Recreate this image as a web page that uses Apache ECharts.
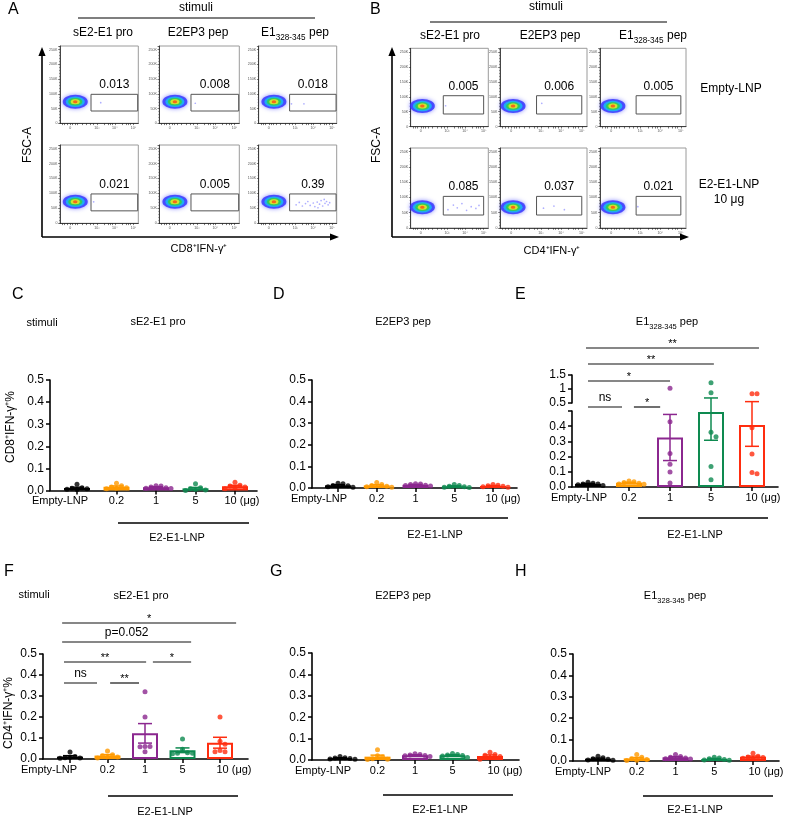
<!DOCTYPE html>
<html>
<head>
<meta charset="utf-8">
<title>Figure</title>
<script src="https://cdn.jsdelivr.net/npm/echarts@6.0.0/dist/echarts.min.js"></script>
<style>
html,body{margin:0;padding:0;background:#ffffff;}
#chart{width:789px;height:817px;}
</style>
</head>
<body>
<div id="chart"></div>
<script>
// ======================= DATA =======================
const doseLabels = ['Empty-LNP', '0.2', '1', '5', '10 (μg)'];
const groupName = 'E2-E1-LNP';
const stimuliHeads = ['sE2-E1 pro', 'E2EP3 pep', 'E1_{328-345} pep'];
const rowLabelsB = ['Empty-LNP', 'E2-E1-LNP', '10 μg'];

const fscTickValues = [0, 50000, 100000, 150000, 200000, 250000];
const fscTickLabels = ['0', '50K', '100K', '150K', '200K', '250K'];
const ifnTickValues = [13, 47, 70, 94];
const ifnTickLabels = ['0', '10³', '10⁴', '10⁵'];

// gate frequencies (rows: Empty-LNP, E2-E1-LNP 10 μg ; cols: stimuli)
const cd8GateFreq = [[0.013, 0.008, 0.018], [0.021, 0.005, 0.39]];
const cd4GateFreq = [[0.005, 0.006, 0.005], [0.085, 0.037, 0.021]];
// gates (IFN display scale, FSC-A)
const cd8GateX = [39.6, 99.2];
const cd8GateY = [41700, 98300];
const cd4GateX = [42, 94];
const cd4GateY = [42500, 103600];
// main population centres
const cd8ClusterCentre = [[19.5, 73000], [19.5, 73000], [19.5, 73000], [19.5, 72000], [19.5, 72000], [19.5, 72000]];
const cd4ClusterCentre = [[15, 69000], [15, 69000], [15, 69000], [15, 68000], [15, 68000], [15, 68000]];
// events inside gates
const cd8GateEvents = [
  [[52, 70000]],
  [[45, 68000]],
  [[42, 66000], [58, 66000]],
  [[43, 72000]],
  [],
  [[48, 62000], [52, 70000], [56, 58000], [60, 66000], [63, 73000], [66, 60000], [70, 68000], [72, 56000], [75, 71000],
   [78, 64000], [80, 76000], [82, 58000], [85, 67000], [87, 73000], [89, 62000], [91, 69000], [84, 80000], [76, 52000]]
];
const cd4GateEvents = [
  [[45, 70000]],
  [[48, 78000]],
  [],
  [[48, 60000], [55, 75000], [60, 66000], [66, 80000], [72, 58000], [78, 70000], [84, 64000], [88, 74000]],
  [[50, 65000], [62, 72000], [74, 60000]],
  [[44, 70000]]
];

// % IFN-γ+ per mouse: groups Empty-LNP, 0.2, 1, 5, 10 μg
const cd8_sE2E1 = [
  [0.028, 0.012, 0.010, 0.008, 0.006, 0.005],
  [0.033, 0.022, 0.016, 0.012, 0.010, 0.008],
  [0.022, 0.020, 0.016, 0.013, 0.010, 0.009],
  [0.030, 0.012, 0.008, 0.005, 0.002, 0.000],
  [0.037, 0.024, 0.020, 0.016, 0.012, 0.008]
];
const cd8_E2EP3 = [
  [0.022, 0.020, 0.012, 0.010, 0.006, 0.004],
  [0.026, 0.016, 0.012, 0.008, 0.006, 0.004],
  [0.020, 0.019, 0.016, 0.013, 0.011, 0.009],
  [0.016, 0.012, 0.008, 0.006, 0.004, 0.002],
  [0.016, 0.013, 0.010, 0.008, 0.006, 0.003]
];
const cd8_E1pep = [
  [0.032, 0.025, 0.020, 0.015, 0.010, 0.020],
  [0.040, 0.035, 0.030, 0.025, 0.020, 0.018],
  [1.03, 0.43, 0.22, 0.15, 0.098, 0.026],
  [1.22, 0.87, 0.36, 0.33, 0.135, 0.048],
  [0.83, 0.83, 0.39, 0.217, 0.096, 0.087]
];
const cd4_sE2E1 = [
  [0.033, 0.012, 0.008, 0.006, 0.005, 0.004],
  [0.038, 0.020, 0.015, 0.010, 0.010, 0.005],
  [0.32, 0.20, 0.060, 0.060, 0.058, 0.035],
  [0.095, 0.046, 0.030, 0.027, 0.027, 0.025],
  [0.20, 0.085, 0.070, 0.040, 0.035, 0.035]
];
const cd4_E2EP3 = [
  [0.016, 0.011, 0.009, 0.007, 0.005, 0.003],
  [0.048, 0.020, 0.014, 0.006, 0.004, 0.002],
  [0.029, 0.026, 0.023, 0.021, 0.020, 0.016],
  [0.030, 0.026, 0.023, 0.021, 0.019, 0.012],
  [0.036, 0.026, 0.022, 0.016, 0.010, 0.004]
];
const cd4_E1pep = [
  [0.022, 0.015, 0.011, 0.008, 0.005, 0.003],
  [0.030, 0.018, 0.011, 0.007, 0.004, 0.002],
  [0.030, 0.021, 0.018, 0.014, 0.011, 0.009],
  [0.018, 0.014, 0.010, 0.007, 0.005, 0.003],
  [0.036, 0.022, 0.019, 0.016, 0.013, 0.010]
];

// significance comparisons [from group, to group, label]
const sigE = [[0, 0.83, 'ns'], [1.12, 1.76, '*'], [0, 2, '*'], [0, 3.07, '**'], [-0.05, 4.17, '**']];
const sigF = [[-0.16, 0.72, 'ns'], [1.07, 1.84, '**'], [-0.16, 2.03, '**'], [2.21, 3.23, '*'], [-0.21, 3.23, 'p=0.052'], [-0.21, 4.43, '*']];

// ======================= STYLE / LAYOUT =======================
const FONT = '"Liberation Sans", Arial, Helvetica, sans-serif';
const groupColors = ['#000000', '#ff9a00', '#8b278f', '#0e8a50', '#ff2d0f'];
const sigELevels = [407, 407, 381, 364, 348];
const sigFLevels = [683, 683, 662, 662, 642, 623];
const flowXTickMarks = [3, 6, 9, 13, 16, 19, 22, 28, 34, 39, 43, 47, 56, 61, 64, 67, 70, 79, 84, 87, 90, 94];
const densityLayers = [
  {size: [25, 14], color: '#3030ff', blur: 4, shadow: 'rgba(50,50,255,0.7)'},
  {size: [19, 10.5], color: '#1cb8f2', blur: 1, shadow: 'rgba(28,184,242,0.6)'},
  {size: [14, 7.5], color: '#30d04a', blur: 1, shadow: 'rgba(48,208,74,0.6)'},
  {size: [9, 5], color: '#e6e62c', blur: 1, shadow: 'rgba(230,230,44,0.6)'},
  {size: [4.5, 3], color: '#ff4a10', blur: 0, shadow: 'rgba(0,0,0,0)'}
];
const flowBoxA = {cols: [[60, 138.3], [159.3, 239.3], [258.7, 336.7]], rows: [[46, 123.3], [145, 223.3]]};
const flowBoxB = {cols: [[410.7, 488.3], [500, 587], [600, 686]], rows: [[48.3, 126.7], [148, 228]]};
const barLayout = {
  C: {left: 50, right: 257, top: 380, bottom: 490.5, ymax: 0.5, cat0: 77, step: 39.5, shift0: -17, shift4: 7},
  D: {left: 312, right: 517, top: 380, bottom: 488, ymax: 0.5, cat0: 338, step: 38.75, shift0: -19, shift4: 10},
  E: {left: 572, right: 778, top: 411, bottom: 487, ymax: 0.5, upTop: 375, upBottom: 403, upMax: 1.5, cat0: 588, step: 41, shift0: -9, shift4: 11},
  F: {left: 43, right: 248, top: 654, bottom: 759, ymax: 0.5, cat0: 70, step: 37.5, shift0: -21, shift4: 14},
  G: {left: 312, right: 519, top: 653, bottom: 760, ymax: 0.5, cat0: 340, step: 37.5, shift0: -17, shift4: 15},
  H: {left: 573, right: 779, top: 654, bottom: 761, ymax: 0.5, cat0: 598, step: 38.75, shift0: -15, shift4: 13}
};

// ======================= BUILD =======================
const grids = [], xAxes = [], yAxes = [], series = [], graphics = [];

function toRich(s) {
  const m = s.match(/^(.*)_\{(.*)\}(.*)$/);
  if (!m) return '{m|' + s + '}';
  return '{m|' + m[1] + '}{s|' + m[2] + '}{m|' + m[3] + '}';
}
function subRich(fs) {
  return {
    m: {fontSize: fs, fontFamily: FONT, fill: '#000', color: '#000', padding: [0, 0, 2.5, 0], verticalAlign: 'top'},
    s: {fontSize: fs * 0.68, fontFamily: FONT, fill: '#000', color: '#000', verticalAlign: 'bottom'}
  };
}
function txt(x, y, text, o) {
  o = o || {};
  const el = {
    type: 'text', x: x, y: y, rotation: o.rot || 0, silent: true, z: 100,
    style: {
      text: text, fill: o.color || '#000', fontSize: o.size || 12, fontFamily: FONT,
      align: o.align || 'center', verticalAlign: o.valign || 'middle'
    }
  };
  if (o.rich) el.style.rich = o.rich;
  graphics.push(el);
}
function rtxt(x, y, s, size) {
  txt(x, y + 1.3, toRich(s), {size: size, rich: subRich(size)});
}
function gline(x1, y1, x2, y2, w, color) {
  graphics.push({type: 'line', silent: true, z: 100, shape: {x1: x1, y1: y1, x2: x2, y2: y2},
    style: {stroke: color || '#000', lineWidth: w || 1}});
}
function arrowUp(x, yBottom, yTip) {
  gline(x, yBottom, x, yTip + 6, 1.6);
  graphics.push({type: 'polygon', silent: true, z: 100, shape: {points: [[x, yTip], [x - 3.6, yTip + 9], [x + 3.6, yTip + 9]]}, style: {fill: '#000'}});
}
function arrowRight(xLeft, y, xTip) {
  gline(xLeft, y, xTip - 6, y, 1.6);
  graphics.push({type: 'polygon', silent: true, z: 100, shape: {points: [[xTip, y], [xTip - 9, y - 3.6], [xTip - 9, y + 3.6]]}, style: {fill: '#000'}});
}

const mean = a => a.reduce((s, v) => s + v, 0) / a.length;
const sem = a => {
  const m = mean(a);
  return Math.sqrt(a.reduce((s, v) => s + (v - m) * (v - m), 0) / (a.length - 1)) / Math.sqrt(a.length);
};

// ---------- flow cytometry plots ----------
function flowPlot(box, freq, gx, gy, centre, events) {
  const gi = grids.length;
  grids.push({left: box[0], top: box[1], width: box[2] - box[0], height: box[3] - box[1],
    show: true, borderColor: '#9a9a9a', borderWidth: 1, backgroundColor: '#fff'});
  xAxes.push({gridIndex: gi, type: 'value', min: 0, max: 100,
    axisLine: {show: true, onZero: false, lineStyle: {color: '#222', width: 0.8}},
    axisTick: {show: true, customValues: flowXTickMarks, length: 1.8, lineStyle: {color: '#222', width: 0.6}},
    axisLabel: {show: true, customValues: ifnTickValues,
      formatter: v => { const k = ifnTickValues.indexOf(v); return k < 0 ? '' : ifnTickLabels[k]; },
      fontSize: 3.6, color: '#555', margin: 2.5, fontFamily: FONT},
    splitLine: {show: false}});
  yAxes.push({gridIndex: gi, type: 'value', min: 0, max: 262144, interval: 50000,
    axisLine: {show: true, onZero: false, lineStyle: {color: '#222', width: 0.8}},
    axisTick: {show: true, length: 1.8, lineStyle: {color: '#222', width: 0.6}},
    minorTick: {show: true, splitNumber: 5, length: 1, lineStyle: {color: '#444', width: 0.5}},
    axisLabel: {formatter: v => { const k = fscTickValues.indexOf(v); return k < 0 ? '' : fscTickLabels[k]; },
      fontSize: 3.6, color: '#555', margin: 2.5, fontFamily: FONT},
    splitLine: {show: false}});
  series.push({type: 'scatter', xAxisIndex: gi, yAxisIndex: gi, silent: true, z: 3, symbol: 'circle',
    data: densityLayers.map(l => ({value: centre, symbolSize: l.size,
      itemStyle: {color: l.color, shadowBlur: l.blur, shadowColor: l.shadow}}))});
  series.push({type: 'scatter', xAxisIndex: gi, yAxisIndex: gi, silent: true, z: 3, symbolSize: 1.7,
    itemStyle: {color: 'rgba(70,70,255,0.55)'}, data: events});
  series.push({type: 'custom', xAxisIndex: gi, yAxisIndex: gi, silent: true, z: 4, clip: false,
    data: [[gx[0], gy[0], gx[1], gy[1], freq]],
    renderItem: (p, api) => {
      const a = api.coord([api.value(0), api.value(3)]);
      const b = api.coord([api.value(2), api.value(1)]);
      return {type: 'group', children: [
        {type: 'rect', shape: {x: a[0], y: a[1], width: b[0] - a[0], height: b[1] - a[1]},
          style: {fill: 'none', stroke: '#555', lineWidth: 1}},
        {type: 'text', x: (a[0] + b[0]) / 2, y: a[1] - 3.5,
          style: {text: String(api.value(4)), fontSize: 12, fontFamily: FONT, fill: '#000', align: 'center', verticalAlign: 'bottom'}}
      ]};
    }});
}

for (let r = 0; r < 2; r++) {
  for (let c = 0; c < 3; c++) {
    const k = r * 3 + c;
    flowPlot([flowBoxA.cols[c][0], flowBoxA.rows[r][0], flowBoxA.cols[c][1], flowBoxA.rows[r][1]],
      cd8GateFreq[r][c], cd8GateX, cd8GateY, cd8ClusterCentre[k], cd8GateEvents[k]);
    flowPlot([flowBoxB.cols[c][0], flowBoxB.rows[r][0], flowBoxB.cols[c][1], flowBoxB.rows[r][1]],
      cd4GateFreq[r][c], cd4GateX, cd4GateY, cd4ClusterCentre[k], cd4GateEvents[k]);
  }
}

// ---------- bar/dot panels ----------
function swarmOffsets(vals, pxFn, stepPx) {
  const d = 5;
  const order = vals.map((v, i) => i).sort((a, b) => vals[b] - vals[a]);
  const placed = [];
  const off = new Array(vals.length).fill(0);
  order.forEach(i => {
    const y = pxFn(vals[i]);
    for (let k = 0; k < 40; k++) {
      const cand = k === 0 ? 0 : (k % 2 === 1 ? 1 : -1) * Math.ceil(k / 2) * d;
      if (placed.every(p => Math.hypot(p.x - cand, p.y - y) >= d - 0.01)) {
        placed.push({x: cand, y: y});
        off[i] = cand / stepPx;
        break;
      }
    }
  });
  return off;
}

function doseXAxis(gi, L, show) {
  const xmin = -(L.cat0 - L.left) / L.step, xmax = (L.right - L.cat0) / L.step;
  return {gridIndex: gi, type: 'value', min: xmin, max: xmax, show: show,
    axisLine: {show: true, onZero: false, lineStyle: {color: '#000', width: 1.6}},
    axisTick: {show: true, customValues: [0, 1, 2, 3, 4], length: 4, lineStyle: {color: '#000', width: 1.5}},
    axisLabel: {show: true, customValues: [0, 1, 2, 3, 4], margin: 5, fontSize: 11, fontFamily: FONT, color: '#000',
      formatter: v => {
        const i = Math.round(v);
        if (i === 0) return '{a|' + doseLabels[0] + '}';
        if (i === 4) return '{b|' + doseLabels[4] + '}';
        return doseLabels[i];
      },
      rich: {
        a: {fontSize: 11, fontFamily: FONT, color: '#000', padding: [0, -2 * L.shift0, 0, 0]},
        b: {fontSize: 11, fontFamily: FONT, color: '#000', padding: [0, 0, 0, 2 * L.shift4]}
      }},
    splitLine: {show: false}};
}
function valYAxis(gi, min, max, interval, fmt) {
  return {gridIndex: gi, type: 'value', min: min, max: max, interval: interval,
    axisLine: {show: true, onZero: false, lineStyle: {color: '#000', width: 1.6}},
    axisTick: {show: true, length: 4, lineStyle: {color: '#000', width: 1.5}},
    axisLabel: {formatter: fmt, fontSize: 12, fontFamily: FONT, color: '#000', margin: 6},
    splitLine: {show: false}};
}

function errSeries(gi, items, mode, brk, gapPx) {
  return {type: 'custom', xAxisIndex: gi, yAxisIndex: gi, silent: true, z: 4, clip: false, data: items,
    renderItem: (p, api) => {
      const i = api.value(0), lo = api.value(1), hi = api.value(2);
      const st = {stroke: groupColors[i], lineWidth: 1.5};
      const cap = 7;
      const ch = [];
      const capAt = (pt) => ch.push({type: 'line', shape: {x1: pt[0] - cap, y1: pt[1], x2: pt[0] + cap, y2: pt[1]}, style: st});
      if (mode === 'full') {
        const a = api.coord([i, hi]), b = api.coord([i, lo]);
        ch.push({type: 'line', shape: {x1: a[0], y1: a[1], x2: b[0], y2: b[1]}, style: st});
        capAt(a); capAt(b);
      } else if (mode === 'lower') {
        const b = api.coord([i, lo]);
        let topY;
        if (hi > brk) { topY = api.coord([i, brk])[1] - gapPx; }
        else { const a = api.coord([i, hi]); topY = a[1]; capAt(a); }
        ch.push({type: 'line', shape: {x1: b[0], y1: b[1], x2: b[0], y2: topY}, style: st});
        capAt(b);
      } else {
        const a = api.coord([i, hi]), b = api.coord([i, Math.max(lo, brk)]);
        ch.push({type: 'line', shape: {x1: a[0], y1: a[1], x2: b[0], y2: b[1]}, style: st});
        capAt(a);
        if (lo >= brk) capAt(b);
      }
      return {type: 'group', children: ch};
    }};
}

function barSeries(gi, means) {
  return {type: 'bar', xAxisIndex: gi, yAxisIndex: gi, silent: true, z: 2, barWidth: 26,
    data: means.map((m, i) => ({value: [i, m], itemStyle: {color: '#ffffff', borderColor: groupColors[i], borderWidth: 2}}))};
}
function dotSeries(gi, pts) {
  return {type: 'scatter', xAxisIndex: gi, yAxisIndex: gi, silent: true, z: 5, symbolSize: 5,
    data: pts.map(p => ({value: [p[0], p[1]], itemStyle: {color: groupColors[p[2]]}}))};
}

function barPanel(L, data) {
  const gi = grids.length;
  grids.push({left: L.left, top: L.top, width: L.right - L.left, height: L.bottom - L.top});
  xAxes.push(doseXAxis(gi, L, true));
  yAxes.push(valYAxis(gi, 0, L.ymax, 0.1, v => v.toFixed(1)));
  const ppu = (L.bottom - L.top) / L.ymax;
  const means = data.map(mean), sems = data.map(sem);
  series.push(barSeries(gi, means));
  series.push(errSeries(gi, means.map((m, i) => [i, m - sems[i], m + sems[i]]), 'full'));
  const pts = [];
  data.forEach((vals, g) => {
    const off = swarmOffsets(vals, v => v * ppu, L.step);
    vals.forEach((v, j) => pts.push([g + off[j], v, g]));
  });
  series.push(dotSeries(gi, pts));
}

function brokenBarPanel(L, data) {
  const gLo = grids.length;
  grids.push({left: L.left, top: L.top, width: L.right - L.left, height: L.bottom - L.top});
  xAxes.push(doseXAxis(gLo, L, true));
  yAxes.push(valYAxis(gLo, 0, L.ymax, 0.1, v => (v > L.ymax - 0.05 ? '' : v.toFixed(1))));
  const gUp = grids.length;
  grids.push({left: L.left, top: L.upTop, width: L.right - L.left, height: L.upBottom - L.upTop});
  xAxes.push(doseXAxis(gUp, L, false));
  yAxes.push(valYAxis(gUp, L.ymax, L.upMax, 0.5, v => String(v)));
  const ppuLo = (L.bottom - L.top) / L.ymax;
  const ppuUp = (L.upBottom - L.upTop) / (L.upMax - L.ymax);
  const gap = L.top - L.upBottom;
  const pxFn = v => v <= L.ymax ? v * ppuLo : (L.bottom - L.top) + gap + (v - L.ymax) * ppuUp;
  const means = data.map(mean), sems = data.map(sem);
  series.push(barSeries(gLo, means));
  const items = means.map((m, i) => [i, m - sems[i], m + sems[i]]);
  series.push(errSeries(gLo, items, 'lower', L.ymax, gap));
  series.push(errSeries(gUp, items.filter(it => it[2] > L.ymax), 'upper', L.ymax, gap));
  const lo = [], up = [];
  data.forEach((vals, g) => {
    const off = swarmOffsets(vals, pxFn, L.step);
    vals.forEach((v, j) => (v < L.ymax ? lo : up).push([g + off[j], v, g]));
  });
  series.push(dotSeries(gLo, lo));
  series.push(dotSeries(gUp, up));
}

barPanel(barLayout.C, cd8_sE2E1);
barPanel(barLayout.D, cd8_E2EP3);
brokenBarPanel(barLayout.E, cd8_E1pep);
barPanel(barLayout.F, cd4_sE2E1);
barPanel(barLayout.G, cd4_E2EP3);
barPanel(barLayout.H, cd4_E1pep);

function sigBrackets(L, comps, levels) {
  comps.forEach((c, k) => {
    const x1 = L.cat0 + c[0] * L.step, x2 = L.cat0 + c[1] * L.step, y = levels[k];
    gline(x1, y, x2, y, 1.2, '#111');
    const star = /^\*+$/.test(c[2]);
    txt((x1 + x2) / 2, star ? y + 1 : y - 3, c[2], {size: star ? 11 : 12, valign: 'bottom'});
  });
}
sigBrackets(barLayout.E, sigE, sigELevels);
sigBrackets(barLayout.F, sigF, sigFLevels);

// ---------- text & decorations ----------
// panel letters
[['A', 8, 10], ['B', 370, 10], ['C', 12, 295], ['D', 273, 295], ['E', 515, 295], ['F', 4, 572], ['G', 270, 572], ['H', 515, 572]]
  .forEach(a => txt(a[1], a[2], a[0], {size: 16, align: 'left'}));

// panel A
txt(196, 8, 'stimuli', {size: 12});
gline(78, 18, 315, 18, 1.2);
[103, 198, 295].forEach((x, i) => rtxt(x, 33, stimuliHeads[i], 12));
arrowUp(42, 237, 47);
arrowRight(42, 237, 339);
txt(28, 145, 'FSC-A', {size: 12, rot: Math.PI / 2});
txt(199, 249, 'CD8⁺IFN-γ⁺', {size: 11});

// panel B
txt(546, 7, 'stimuli', {size: 12});
gline(430, 22, 667, 22, 1.2);
[450, 550, 653].forEach((x, i) => rtxt(x, 36, stimuliHeads[i], 12));
arrowUp(392, 237, 47);
arrowRight(392, 237, 689);
txt(377, 145, 'FSC-A', {size: 12, rot: Math.PI / 2});
txt(552, 251, 'CD4⁺IFN-γ⁺', {size: 11});
txt(731, 89, rowLabelsB[0], {size: 12});
txt(729, 185, rowLabelsB[1], {size: 12});
txt(729, 200, rowLabelsB[2], {size: 12});

// panels C-H headings
txt(42, 323, 'stimuli', {size: 11});
rtxt(158, 322, stimuliHeads[0], 11);
rtxt(403, 322, stimuliHeads[1], 11);
rtxt(667, 322, stimuliHeads[2], 11);
txt(34, 595, 'stimuli', {size: 11});
rtxt(141, 596, stimuliHeads[0], 11);
rtxt(403, 596, stimuliHeads[1], 11);
rtxt(675, 596, stimuliHeads[2], 11);
// y-axis titles
txt(11, 427, 'CD8⁺IFN-γ⁺%', {size: 12, rot: Math.PI / 2});
txt(9, 713, 'CD4⁺IFN-γ⁺%', {size: 12, rot: Math.PI / 2});
// group brackets under axes
[[118, 249, 523, 177, 538], [378, 508, 518, 435, 535], [638, 768, 518, 695, 535],
 [108, 238, 796, 165, 812], [383, 513, 795, 440, 810], [643, 773, 796, 695, 810]].forEach(g => {
  gline(g[0], g[2], g[1], g[2], 1.5);
  txt(g[3], g[4], groupName, {size: 11});
});

const chart = echarts.init(document.getElementById('chart'), null, {renderer: 'canvas'});
chart.setOption({
  animation: false,
  backgroundColor: '#ffffff',
  textStyle: {fontFamily: FONT},
  grid: grids,
  xAxis: xAxes,
  yAxis: yAxes,
  series: series,
  graphic: {elements: graphics}
});
</script>
</body>
</html>
